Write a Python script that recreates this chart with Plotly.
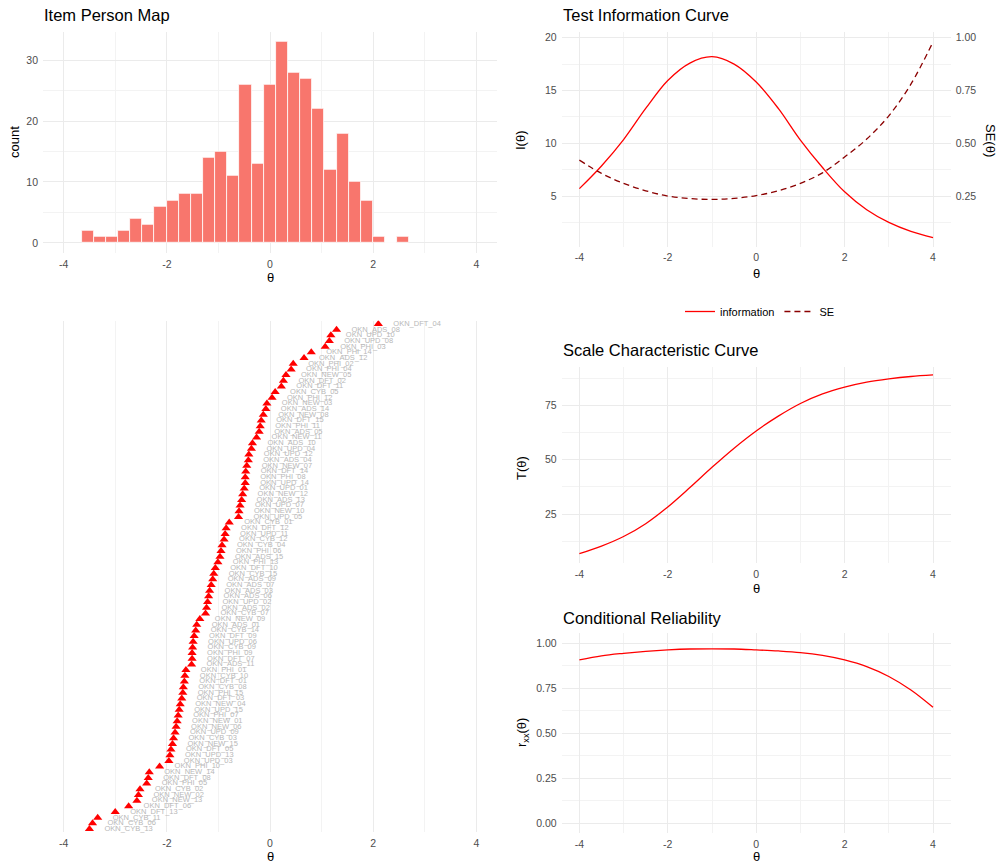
import plotly.graph_objects as go

# ---------------- data ----------------
# Item Person Map histogram (person theta estimates, 27 bins)
hist_bin_centers = [-3.534, -3.299, -3.064, -2.828, -2.593, -2.358, -2.122, -1.887, -1.652,
                    -1.416, -1.181, -0.946, -0.710, -0.475, -0.240, -0.004, 0.231, 0.466,
                    0.702, 0.937, 1.172, 1.408, 1.643, 1.878, 2.114, 2.349, 2.584]
hist_counts = [2, 1, 1, 2, 4, 3, 6, 7, 8, 8, 14, 15, 11, 26, 13, 26, 33, 28, 27, 22, 12, 18,
               10, 7, 1, 0, 1]
hist_bin_width = 0.2352

# Item difficulties (top to bottom as shown)
item_names = [
    "OKN_DFT_04", "OKN_ADS_08", "OKN_UPD_10", "OKN_UPD_08", "OKN_PHI_03", "OKN_PHI_14",
    "OKN_ADS_12", "OKN_PHI_02", "OKN_PHI_04", "OKN_NEW_05", "OKN_DFT_02", "OKN_DFT_11",
    "OKN_CYB_05", "OKN_PHI_12", "OKN_NEW_03", "OKN_ADS_14", "OKN_NEW_08", "OKN_DFT_15",
    "OKN_PHI_11", "OKN_ADS_05", "OKN_NEW_11", "OKN_ADS_10", "OKN_UPD_04", "OKN_UPD_12",
    "OKN_ADS_04", "OKN_NEW_07", "OKN_DFT_14", "OKN_PHI_08", "OKN_UPD_14", "OKN_UPD_01",
    "OKN_NEW_12", "OKN_ADS_13", "OKN_UPD_07", "OKN_NEW_10", "OKN_UPD_05", "OKN_CYB_01",
    "OKN_DFT_12", "OKN_UPD_11", "OKN_CYB_12", "OKN_CYB_04", "OKN_PHI_06", "OKN_ADS_15",
    "OKN_PHI_13", "OKN_DFT_10", "OKN_CYB_15", "OKN_ADS_09", "OKN_ADS_07", "OKN_ADS_03",
    "OKN_ADS_06", "OKN_UPD_02", "OKN_ADS_02", "OKN_CYB_07", "OKN_NEW_09", "OKN_ADS_01",
    "OKN_CYB_14", "OKN_DFT_09", "OKN_UPD_06", "OKN_CYB_09", "OKN_PHI_09", "OKN_DFT_07",
    "OKN_ADS_11", "OKN_PHI_01", "OKN_CYB_10", "OKN_DFT_01", "OKN_CYB_08", "OKN_PHI_15",
    "OKN_DFT_03", "OKN_NEW_04", "OKN_UPD_15", "OKN_PHI_07", "OKN_NEW_01", "OKN_NEW_06",
    "OKN_UPD_09", "OKN_CYB_03", "OKN_NEW_15", "OKN_DFT_05", "OKN_UPD_13", "OKN_UPD_03",
    "OKN_PHI_10", "OKN_NEW_14", "OKN_DFT_08", "OKN_PHI_05", "OKN_CYB_02", "OKN_NEW_02",
    "OKN_NEW_13", "OKN_DFT_06", "OKN_DFT_13", "OKN_CYB_11", "OKN_CYB_06", "OKN_CYB_13",
]
item_difficulty = [
    2.10, 1.29, 1.18, 1.15, 1.07, 0.80, 0.66, 0.45, 0.41, 0.31, 0.26, 0.22,
    0.10, 0.04, -0.06, -0.08, -0.13, -0.17, -0.19, -0.21, -0.26, -0.34, -0.36, -0.41,
    -0.42, -0.45, -0.47, -0.48, -0.48, -0.50, -0.53, -0.55, -0.58, -0.60, -0.61, -0.79,
    -0.85, -0.87, -0.89, -0.93, -0.95, -0.97, -1.01, -1.06, -1.09, -1.11, -1.14, -1.17,
    -1.19, -1.21, -1.23, -1.25, -1.36, -1.42, -1.44, -1.47, -1.49, -1.50, -1.51, -1.51,
    -1.52, -1.63, -1.65, -1.66, -1.68, -1.69, -1.71, -1.74, -1.76, -1.78, -1.80, -1.82,
    -1.84, -1.87, -1.89, -1.92, -1.94, -1.96, -2.14, -2.34, -2.36, -2.39, -2.52, -2.55,
    -2.58, -2.74, -3.00, -3.34, -3.44, -3.50,
]

# Curves over theta
theta_grid = [-4.0, -3.5, -3.0, -2.5, -2.0, -1.5, -1.0, -0.5, 0.0, 0.5, 1.0, 1.5, 2.0,
              2.5, 3.0, 3.5, 4.0]
information = [5.70, 7.85, 10.35, 13.30, 15.95, 17.60, 18.20, 17.50, 15.80, 13.30, 10.30,
               7.70, 5.40, 3.70, 2.50, 1.65, 1.05]
standard_error = [0.42, 0.357, 0.31, 0.275, 0.25, 0.238, 0.234, 0.239, 0.252, 0.275, 0.31,
                  0.36, 0.435, 0.52, 0.63, 0.78, 0.98]
scale_score = [6.8, 10.3, 14.7, 20.6, 28.3, 37.2, 46.5, 55.3, 63.2, 70.0, 75.8, 80.2, 83.3,
               85.6, 87.1, 88.2, 88.9]
reliability = [0.907, 0.930, 0.944, 0.955, 0.963, 0.968, 0.969, 0.968, 0.963, 0.957, 0.948,
               0.932, 0.907, 0.870, 0.815, 0.740, 0.644]

theta_ticks = [-4, -2, 0, 2, 4]
theta_tick_labels = ["-4", "-2", "0", "2", "4"]

# ---------------- styling helpers ----------------
W, H = 1001, 864
FONT = "Liberation Sans, Arial, Helvetica, sans-serif"
MAJOR = "#EBEBEB"
MINOR = "#F3F3F3"
TICKCOL = "#4D4D4D"


def px(x):
    return x / W


def py(y):
    return 1 - y / H


def xaxis_cfg(x0, x1, anchor):
    return dict(domain=[px(x0), px(x1)], anchor=anchor, range=[-4.4, 4.4],
                tickvals=theta_ticks, ticktext=theta_tick_labels,
                showgrid=True, gridcolor=MAJOR, gridwidth=1,
                zeroline=False, showline=False, ticks="",
                tickfont=dict(size=10.5, color=TICKCOL, family=FONT),
                minor=dict(dtick=1, tick0=0, showgrid=True, gridcolor=MINOR, gridwidth=0.7),
                ticklabelstandoff=3, automargin=False, fixedrange=True)


def yaxis_cfg(y0, y1, anchor, rng, major, minor, fmt=None):
    d = dict(domain=[py(y1), py(y0)], anchor=anchor, range=rng, dtick=major, tick0=0,
             showgrid=True, gridcolor=MAJOR, gridwidth=1, zeroline=False, showline=False,
             ticks="", tickfont=dict(size=10.5, color=TICKCOL, family=FONT),
             minor=dict(dtick=minor, tick0=0, showgrid=True, gridcolor=MINOR, gridwidth=0.7),
             ticklabelstandoff=4, automargin=False, fixedrange=True)
    if fmt:
        d["tickformat"] = fmt
    return d


fig = go.Figure()

# Histogram
fig.add_trace(go.Bar(x=hist_bin_centers, y=hist_counts, width=hist_bin_width,
                     marker=dict(color="#F8766D", line=dict(color="white", width=0.8)),
                     xaxis="x", yaxis="y", showlegend=False, hoverinfo="x+y"))

# Test information + SE
fig.add_trace(go.Scatter(x=theta_grid, y=information, mode="lines", name="information",
                         line=dict(color="#FF0000", width=1.3, shape="spline"),
                         xaxis="x2", yaxis="y2", legendrank=1))
fig.add_trace(go.Scatter(x=theta_grid, y=standard_error, mode="lines", name="SE",
                         line=dict(color="#8B0000", width=1.3, shape="spline",
                                   dash="6px,4px"),
                         xaxis="x2", yaxis="y3", legendrank=2))

# Item map
fig.add_trace(go.Scatter(x=item_difficulty, y=item_names, mode="markers",
                         marker=dict(symbol="triangle-up", color="#FF0000", size=8),
                         xaxis="x3", yaxis="y4", showlegend=False))
fig.add_trace(go.Scatter(x=[d + 0.29 for d in item_difficulty], y=item_names, mode="text",
                         text=item_names, textposition="middle right",
                         textfont=dict(size=7.5, color="#B8B8B8", family=FONT),
                         xaxis="x3", yaxis="y4", showlegend=False, hoverinfo="skip",
                         cliponaxis=False))

# Scale characteristic curve
fig.add_trace(go.Scatter(x=theta_grid, y=scale_score, mode="lines",
                         line=dict(color="#FF0000", width=1.3, shape="spline"),
                         xaxis="x4", yaxis="y5", showlegend=False))

# Conditional reliability
fig.add_trace(go.Scatter(x=theta_grid, y=reliability, mode="lines",
                         line=dict(color="#FF0000", width=1.3, shape="spline"),
                         xaxis="x5", yaxis="y6", showlegend=False))

cat_order = list(reversed(item_names))

layout = dict(
    width=W, height=H, margin=dict(l=0, r=0, t=0, b=0),
    paper_bgcolor="white", plot_bgcolor="white",
    font=dict(family=FONT, color="black"),
    bargap=0,
    xaxis=xaxis_cfg(43, 497, "y"),
    yaxis=yaxis_cfg(31.7, 253, "x", [-1.65, 34.65], 10, 5),
    xaxis2=xaxis_cfg(561.7, 950.7, "y2"),
    yaxis2=yaxis_cfg(31.7, 246.7, "x2", [0.2, 20.57], 5, 2.5),
    yaxis3=dict(overlaying="y2", side="right", anchor="x2", range=[0.01, 1.0285],
                tickvals=[0.25, 0.5, 0.75, 1.0], tickformat=".2f", showgrid=False,
                zeroline=False, showline=False, ticks="",
                tickfont=dict(size=10.5, color=TICKCOL, family=FONT),
                ticklabelstandoff=4, automargin=False, fixedrange=True),
    xaxis3=xaxis_cfg(43, 497, "y4"),
    yaxis4=dict(domain=[py(832.4), py(320.6)], anchor="x3", type="category",
                categoryorder="array", categoryarray=cat_order, range=[-0.6, 89.6],
                showgrid=False, showticklabels=False, zeroline=False, showline=False,
                ticks="", automargin=False, fixedrange=True),
    xaxis4=xaxis_cfg(561.7, 950.7, "y5"),
    yaxis5=yaxis_cfg(366.7, 563.3, "x4", [2.4, 92.7], 25, 12.5),
    xaxis5=xaxis_cfg(561.7, 950.7, "y6"),
    yaxis6=yaxis_cfg(633.3, 833.3, "x5", [-0.055, 1.055], 0.25, 0.125, ".2f"),
    legend=dict(orientation="h", x=px(760), y=py(311.5), xanchor="center",
                yanchor="middle", font=dict(size=11, family=FONT, color="black"),
                itemwidth=30, bgcolor="rgba(0,0,0,0)", tracegroupgap=0),
    showlegend=True,
)
fig.update_layout(**layout)

annotations = []


def title(text, x, y):
    annotations.append(dict(text=text, x=px(x), y=py(y), xref="paper", yref="paper",
                            xanchor="left", yanchor="middle", showarrow=False,
                            font=dict(size=16.5, family=FONT, color="black")))


def axtitle(text, x, y, angle=0, size=13):
    annotations.append(dict(text=text, x=px(x), y=py(y), xref="paper", yref="paper",
                            xanchor="center", yanchor="middle", showarrow=False,
                            textangle=angle, font=dict(size=size, family=FONT, color="black")))


title("Item Person Map", 42, 15)
title("Test Information Curve", 561, 15)
title("Scale Characteristic Curve", 561, 350)
title("Conditional Reliability", 561, 618)

axtitle("count", 14, 142, -90)
axtitle("θ", 270, 277)
axtitle("I(θ)", 521, 140, -90)
axtitle("SE(θ)", 990, 140, 90)
axtitle("θ", 756, 273)
axtitle("T(θ)", 522, 468, -90)
axtitle("θ", 756, 588)
axtitle("r<sub>xx</sub>(θ)", 522, 733, -90)
axtitle("θ", 756, 856)
axtitle("θ", 270, 856)

fig.update_layout(annotations=annotations)

fig.write_html(
    "out.html",
    config={"displayModeBar": False},
    post_script="document.body.style.margin='0';document.body.style.padding='0';"
                "document.documentElement.style.overflow='hidden';",
)
